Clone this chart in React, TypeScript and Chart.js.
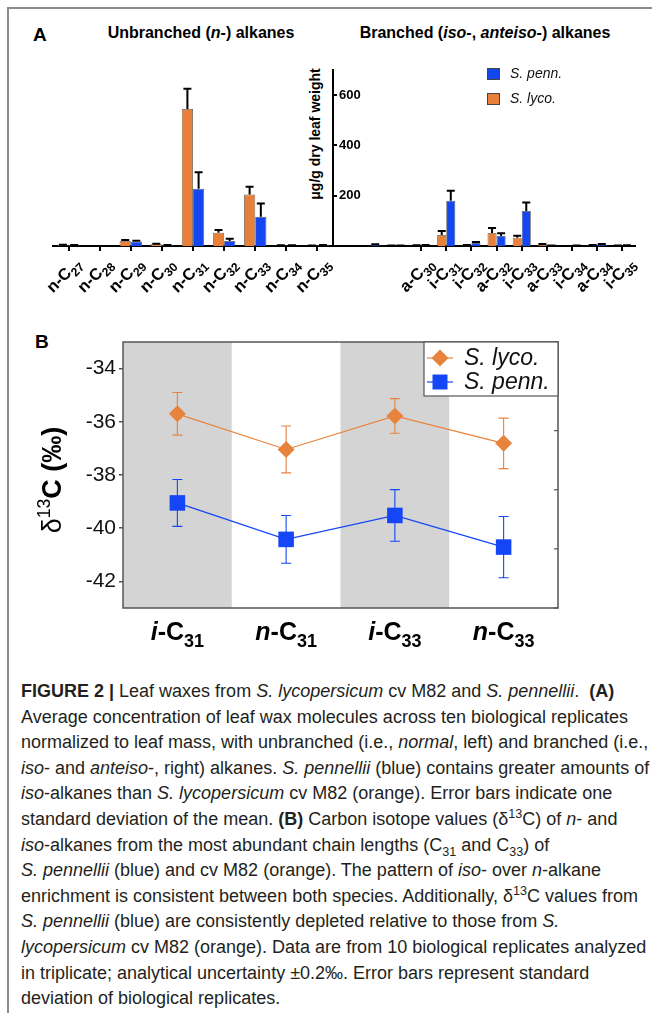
import React, { useEffect, useRef } from "react";
import { Chart, registerables } from "chart.js";

Chart.register(...registerables);

// ---------------- Panel A data (µg/g dry leaf weight) ----------------
const nPrefixes = ["n", "n", "n", "n", "n", "n", "n", "n", "n"];
const nChains = ["27", "28", "29", "30", "31", "32", "33", "34", "35"];
const nLycoValues = [3, 0, 20, 7, 545, 53, 205, 2, 1];
const nLycoErrors = [2, 0, 4, 2, 80, 11, 31, 1, 1];
const nPennValues = [3, 0, 17, 3, 228, 20, 116, 2, 3];
const nPennErrors = [1, 0, 4, 1, 65, 9, 53, 1, 1];

const brPrefixes = ["", "", "", "a", "i", "i", "a", "i", "a", "i", "a", "i"];
const brChains = ["", "", "", "30", "31", "32", "32", "33", "33", "34", "34", "35"];
const brLycoValues = [0, 0, 1, 2, 44, 3, 52, 33, 5, 0, 3, 1];
const brLycoErrors = [0, 0, 1, 1, 16, 1, 20, 8, 3, 0, 1, 1];
const brPennValues = [0, 5, 1, 3, 180, 12, 40, 139, 1, 1, 6, 2];
const brPennErrors = [0, 2, 1, 1, 40, 4, 11, 34, 1, 1, 2, 1];

const aTicks = [200, 400, 600];
const aMax = 700;

// ---------------- Panel B data (δ13C ‰) ----------------
const bPrefixes = ["i", "n", "i", "n"];
const bChains = ["31", "31", "33", "33"];
const bShaded = [true, false, true, false];
const lycoDelta = [-35.7, -37.04, -35.78, -36.81];
const lycoDeltaErr = [0.8, 0.88, 0.65, 0.95];
const pennDelta = [-39.05, -40.42, -39.52, -40.71];
const pennDeltaErr = [0.88, 0.9, 0.97, 1.15];
const bTicks = [-42, -40, -38, -36, -34];
const bMin = -43;
const bMax = -33;

const FONT = "'Liberation Sans', Arial, Helvetica, sans-serif";
const ORANGE = "#E8803A";
const BLUE = "#1446F2";
const ORANGE_B = "#E8833D";
const BLUE_B = "#1446F5";

type Seg = { t: string; b?: boolean; i?: boolean; sub?: boolean; sup?: boolean };

function drawRich(
  ctx: CanvasRenderingContext2D,
  segs: Seg[],
  x: number,
  y: number,
  size: number,
  align: "left" | "center" | "right",
  subScale = 0.72
) {
  const fontOf = (s: Seg) =>
    `${s.i ? "italic " : ""}${s.b ? "bold " : ""}${s.sub || s.sup ? size * subScale : size}px ${FONT}`;
  let w = 0;
  for (const s of segs) {
    ctx.font = fontOf(s);
    w += ctx.measureText(s.t).width;
  }
  let cx = align === "left" ? x : align === "center" ? x - w / 2 : x - w;
  ctx.textAlign = "left";
  ctx.textBaseline = "alphabetic";
  for (const s of segs) {
    ctx.font = fontOf(s);
    const dy = s.sub ? size * 0.28 : s.sup ? -size * 0.42 : 0;
    ctx.fillText(s.t, cx, y + dy);
    cx += ctx.measureText(s.t).width;
  }
  return w;
}

const barErrorPlugin = {
  id: "barErr",
  afterDatasetsDraw(chart: any) {
    const ctx = chart.ctx;
    const y = chart.scales.y;
    ctx.save();
    ctx.strokeStyle = "#000";
    ctx.lineWidth = 2;
    chart.data.datasets.forEach((ds: any, di: number) => {
      const meta = chart.getDatasetMeta(di);
      meta.data.forEach((bar: any, i: number) => {
        const v = ds.data[i];
        const e = ds.errors[i];
        const top = y.getPixelForValue(v + e);
        const base = y.getPixelForValue(v);
        ctx.beginPath();
        ctx.moveTo(bar.x, base);
        ctx.lineTo(bar.x, top);
        ctx.moveTo(bar.x - 4, top);
        ctx.lineTo(bar.x + 4, top);
        ctx.stroke();
      });
    });
    ctx.restore();
  },
};

function rotLabelPlugin(prefixes: string[], chains: string[]) {
  return {
    id: "rotLabels",
    afterDraw(chart: any) {
      const ctx = chart.ctx;
      const xs = chart.scales.x;
      ctx.save();
      ctx.fillStyle = "#000";
      prefixes.forEach((p, i) => {
        if (!p) return;
        const px = xs.getPixelForValue(i);
        ctx.save();
        ctx.translate(px + 5, xs.top + 10);
        ctx.rotate(-Math.PI / 4);
        drawRich(ctx, [{ t: p + "-C", b: true }, { t: chains[i], b: true, sub: true }], 0, 12, 16.5, "right", 0.74);
        ctx.restore();
      });
      ctx.restore();
    },
  };
}

const legendAPlugin = {
  id: "legendA",
  afterDraw(chart: any) {
    const ctx = chart.ctx;
    ctx.save();
    [1, 0].forEach((di, k) => {
      const ds = chart.data.datasets[di];
      const x = 187;
      const y = 28 + k * 25;
      ctx.fillStyle = ds.backgroundColor;
      ctx.fillRect(x, y, 13, 12);
      ctx.strokeStyle = "#444";
      ctx.lineWidth = 1;
      ctx.strokeRect(x + 0.5, y + 0.5, 12, 11);
      ctx.fillStyle = "#111";
      ctx.font = `italic 14px ${FONT}`;
      ctx.textAlign = "left";
      ctx.textBaseline = "middle";
      ctx.fillText(ds.label, x + 23, y + 6.5);
    });
    ctx.restore();
  },
};

const bPlugin = {
  id: "panelB",
  beforeDatasetsDraw(chart: any) {
    const ctx = chart.ctx;
    const xs = chart.scales.x;
    const ys = chart.scales.y;
    const ca = chart.chartArea;
    const w = xs.getPixelForValue(1) - xs.getPixelForValue(0);
    ctx.save();
    ctx.fillStyle = "#D4D4D4";
    bShaded.forEach((s, i) => {
      if (!s) return;
      const c = xs.getPixelForValue(i);
      ctx.fillRect(c - w / 2, ca.top, w, ca.bottom - ca.top);
    });
    // error bars
    chart.data.datasets.forEach((ds: any, di: number) => {
      const meta = chart.getDatasetMeta(di);
      ctx.strokeStyle = ds.borderColor;
      ctx.lineWidth = 1.1;
      meta.data.forEach((pt: any, i: number) => {
        const v = ds.data[i];
        const e = ds.errors[i];
        const t = ys.getPixelForValue(v + e);
        const b = ys.getPixelForValue(v - e);
        ctx.beginPath();
        ctx.moveTo(pt.x, t);
        ctx.lineTo(pt.x, b);
        ctx.moveTo(pt.x - 5, t);
        ctx.lineTo(pt.x + 5, t);
        ctx.moveTo(pt.x - 5, b);
        ctx.lineTo(pt.x + 5, b);
        ctx.stroke();
      });
    });
    ctx.restore();
  },
  afterDatasetsDraw(chart: any) {
    const ctx = chart.ctx;
    const ca = chart.chartArea;
    const y2 = chart.scales.y2;
    ctx.save();
    ctx.strokeStyle = "#555";
    ctx.lineWidth = 1.5;
    ctx.strokeRect(ca.left, ca.top, ca.right - ca.left, ca.bottom - ca.top);
    ctx.lineWidth = 1.2;
    y2.ticks.forEach((t: any) => {
      const py = y2.getPixelForValue(t.value);
      ctx.beginPath();
      ctx.moveTo(ca.right, py);
      ctx.lineTo(ca.right - 4, py);
      ctx.stroke();
    });
    ctx.restore();
  },
  afterDraw(chart: any) {
    const ctx = chart.ctx;
    const xs = chart.scales.x;
    const ca = chart.chartArea;
    ctx.save();
    ctx.fillStyle = "#000";
    bPrefixes.forEach((p, i) => {
      drawRich(
        ctx,
        [
          { t: p, b: true, i: true },
          { t: "-C", b: true },
          { t: bChains[i], b: true, sub: true },
        ],
        xs.getPixelForValue(i),
        ca.bottom + 32,
        25,
        "center"
      );
    });
    // y title
    ctx.save();
    ctx.translate(61, 160);
    ctx.rotate(-Math.PI / 2);
    drawRich(ctx, [{ t: "δ" }, { t: "13", sup: true }, { t: "C (‰)", b: true }], 0, 0, 27, "center", 0.65);
    ctx.restore();
    // legend
    const bw = 134;
    const bh = 54;
    const lx = ca.right - bw;
    const ly = ca.top;
    ctx.fillStyle = "#fff";
    ctx.fillRect(lx, ly, bw, bh);
    ctx.strokeStyle = "#555";
    ctx.lineWidth = 1.2;
    ctx.strokeRect(lx, ly, bw, bh);
    chart.data.datasets.forEach((ds: any, k: number) => {
      const cy = ly + 16 + k * 24;
      const cx = lx + 16;
      ctx.strokeStyle = ds.borderColor;
      ctx.lineWidth = 1.2;
      ctx.beginPath();
      ctx.moveTo(cx - 13, cy);
      ctx.lineTo(cx + 13, cy);
      ctx.stroke();
      ctx.fillStyle = ds.backgroundColor;
      if (ds.pointStyle === "rectRot") {
        const r = 8.5;
        ctx.beginPath();
        ctx.moveTo(cx, cy - r);
        ctx.lineTo(cx + r, cy);
        ctx.lineTo(cx, cy + r);
        ctx.lineTo(cx - r, cy);
        ctx.closePath();
        ctx.fill();
      } else {
        ctx.fillRect(cx - 7.5, cy - 7.5, 15, 15);
      }
      ctx.fillStyle = "#111";
      ctx.font = `italic 23px ${FONT}`;
      ctx.textAlign = "left";
      ctx.textBaseline = "middle";
      ctx.fillText(ds.label, lx + 40, cy + 1);
    });
    ctx.restore();
  },
};

function barDataset(label: string, data: number[], errors: number[], color: string) {
  return {
    label,
    data,
    errors,
    backgroundColor: color,
    borderColor: "#5a5a5a",
    borderWidth: 0.8,
    categoryPercentage: 0.72,
    barPercentage: 1,
  } as any;
}

export default function App() {
  const aLeftRef = useRef<HTMLCanvasElement>(null);
  const aRightRef = useRef<HTMLCanvasElement>(null);
  const bRef = useRef<HTMLCanvasElement>(null);

  useEffect(() => {
    const charts: Chart[] = [];
    const xAxisA = (tickColor: any) => ({
      offset: true,
      grid: {
        display: true,
        drawOnChartArea: false,
        drawTicks: true,
        tickLength: 5,
        offset: false,
        color: "#000",
        tickColor,
        lineWidth: 2,
      },
      border: { display: true, color: "#000", width: 2 },
      ticks: { display: false, autoSkip: false },
    });

    charts.push(
      new Chart(aLeftRef.current as HTMLCanvasElement, {
        type: "bar",
        data: {
          labels: nChains.map((c, i) => `${nPrefixes[i]}-C${c}`),
          datasets: [
            barDataset("S. lyco.", nLycoValues, nLycoErrors, ORANGE),
            barDataset("S. penn.", nPennValues, nPennErrors, BLUE),
          ],
        },
        options: {
          responsive: false,
          animation: false,
          layout: { padding: { left: 53, top: 30, right: 12, bottom: 79 } },
          plugins: { legend: { display: false }, tooltip: { enabled: false } },
          scales: {
            x: xAxisA("#000") as any,
            y: {
              position: "right",
              min: 0,
              max: aMax,
              afterBuildTicks: (axis: any) => {
                axis.ticks = aTicks.map((v) => ({ value: v }));
              },
              afterFit: (s: any) => {
                s.width = 35;
              },
              grid: { drawOnChartArea: false, tickLength: 4, color: "#000", lineWidth: 2 },
              border: { display: true, color: "#000", width: 2 },
              ticks: { color: "#000", font: { family: FONT, size: 13, weight: "bold" }, padding: 2 },
            } as any,
          },
        },
        plugins: [barErrorPlugin, rotLabelPlugin(nPrefixes, nChains)],
      } as any)
    );

    charts.push(
      new Chart(aRightRef.current as HTMLCanvasElement, {
        type: "bar",
        data: {
          labels: brChains.map((c, i) => (brPrefixes[i] ? `${brPrefixes[i]}-C${c}` : "")),
          datasets: [
            barDataset("S. lyco.", brLycoValues, brLycoErrors, ORANGE),
            barDataset("S. penn.", brPennValues, brPennErrors, BLUE),
          ],
        },
        options: {
          responsive: false,
          animation: false,
          layout: { padding: { left: 33, top: 30, right: 17, bottom: 79 } },
          plugins: { legend: { display: false }, tooltip: { enabled: false } },
          scales: {
            x: xAxisA((c: any) => (brPrefixes[c.index] ? "#000" : "rgba(0,0,0,0)")) as any,
            y: { display: false, min: 0, max: aMax },
          },
        },
        plugins: [barErrorPlugin, rotLabelPlugin(brPrefixes, brChains), legendAPlugin],
      } as any)
    );

    charts.push(
      new Chart(bRef.current as HTMLCanvasElement, {
        type: "line",
        data: {
          labels: bPrefixes.map((p, i) => `${p}-C${bChains[i]}`),
          datasets: [
            {
              label: "S. lyco.",
              data: lycoDelta,
              errors: lycoDeltaErr,
              borderColor: ORANGE_B,
              backgroundColor: ORANGE_B,
              borderWidth: 1.2,
              pointStyle: "rectRot",
              pointRadius: 8.5,
              pointBorderWidth: 0,
            } as any,
            {
              label: "S. penn.",
              data: pennDelta,
              errors: pennDeltaErr,
              borderColor: BLUE_B,
              backgroundColor: BLUE_B,
              borderWidth: 1.2,
              pointStyle: "rect",
              pointRadius: 11,
              pointBorderWidth: 0,
            } as any,
          ],
        },
        options: {
          responsive: false,
          animation: false,
          layout: { padding: { left: 0, top: 22, right: 42, bottom: 57 } },
          plugins: { legend: { display: false }, tooltip: { enabled: false } },
          scales: {
            x: {
              offset: true,
              grid: { display: false, drawTicks: false },
              border: { display: false },
              ticks: { display: false },
            },
            y: {
              min: bMin,
              max: bMax,
              afterBuildTicks: (axis: any) => {
                axis.ticks = bTicks.map((v) => ({ value: v }));
              },
              afterFit: (s: any) => {
                s.width = 123;
              },
              grid: { drawOnChartArea: false, tickLength: 4, color: "#555", lineWidth: 1.5 },
              border: { display: false },
              ticks: { color: "#111", font: { family: FONT, size: 21 }, padding: 3 },
            } as any,
            y2: {
              position: "right",
              min: 0,
              max: 4.5,
              ticks: { display: false, stepSize: 1 },
              grid: { drawOnChartArea: false, drawTicks: false },
              border: { display: false },
            } as any,
          },
        },
        plugins: [bPlugin],
      } as any)
    );

    return () => charts.forEach((c) => c.destroy());
  }, []);

  const abs = (s: React.CSSProperties): React.CSSProperties => ({ position: "absolute", whiteSpace: "nowrap", ...s });
  const capLine = (i: number): React.CSSProperties =>
    abs({ left: 21, top: 679 + i * 25.6, lineHeight: "25.6px", fontSize: 18, color: "#231f20" });
  const supS: React.CSSProperties = { fontSize: "0.7em", lineHeight: 0 };

  return (
    <div
      style={{
        position: "absolute",
        left: 0,
        top: 0,
        width: 652,
        height: 1013,
        background: "#fff",
        overflow: "hidden",
        fontFamily: FONT,
        color: "#000",
      }}
    >
      <div
        style={abs({
          left: 7,
          top: 7,
          width: 700,
          height: 1100,
          borderTop: "2px solid #8c8c8c",
          borderLeft: "2px solid #8c8c8c",
        })}
      />
      {/* Panel A headings */}
      <div style={abs({ left: 33, top: 34, transform: "translateY(-50%)", fontSize: 19, fontWeight: "bold", lineHeight: 1 })}>A</div>
      <div style={abs({ left: 201, top: 33, transform: "translate(-50%,-50%)", fontSize: 16, fontWeight: "bold", lineHeight: 1 })}>
        Unbranched (<i>n</i>-) alkanes
      </div>
      <div style={abs({ left: 485, top: 33, transform: "translate(-50%,-50%)", fontSize: 16, fontWeight: "bold", lineHeight: 1 })}>
        Branched (<i>iso</i>-, <i>anteiso</i>-) alkanes
      </div>
      <div
        style={abs({
          left: 315,
          top: 134,
          transform: "translate(-50%,-50%) rotate(-90deg)",
          fontSize: 14,
          fontWeight: "bold",
          lineHeight: 1,
        })}
      >
        μg/g dry leaf weight
      </div>

      <canvas ref={aLeftRef} width={380} height={290} style={{ position: "absolute", left: 0, top: 40 }} />
      <canvas ref={aRightRef} width={352} height={290} style={{ position: "absolute", left: 300, top: 40 }} />

      {/* Panel B */}
      <div style={abs({ left: 35, top: 341, transform: "translateY(-50%)", fontSize: 19, fontWeight: "bold", lineHeight: 1 })}>B</div>
      <canvas ref={bRef} width={600} height={345} style={{ position: "absolute", left: 0, top: 320 }} />

      {/* Caption */}
      <div style={capLine(0)}>
        <b>FIGURE 2 |</b> Leaf waxes from <i>S. lycopersicum</i> cv M82 and <i>S. pennellii</i>.{"\u00a0 "}<b>(A)</b>
      </div>
      <div style={capLine(1)}>Average concentration of leaf wax molecules across ten biological replicates</div>
      <div style={capLine(2)}>
        normalized to leaf mass, with unbranched (i.e., <i>normal</i>, left) and branched (i.e.,
      </div>
      <div style={capLine(3)}>
        <i>iso</i>- and <i>anteiso</i>-, right) alkanes. <i>S. pennellii</i> (blue) contains greater amounts of
      </div>
      <div style={capLine(4)}>
        <i>iso</i>-alkanes than <i>S. lycopersicum</i> cv M82 (orange). Error bars indicate one
      </div>
      <div style={capLine(5)}>
        standard deviation of the mean. <b>(B)</b> Carbon isotope values (δ<sup style={supS}>13</sup>C) of <i>n</i>- and
      </div>
      <div style={capLine(6)}>
        <i>iso</i>-alkanes from the most abundant chain lengths (C<sub style={supS}>31</sub> and C<sub style={supS}>33</sub>) of
      </div>
      <div style={capLine(7)}>
        <i>S. pennellii</i> (blue) and cv M82 (orange). The pattern of <i>iso</i>- over <i>n</i>-alkane
      </div>
      <div style={capLine(8)}>
        enrichment is consistent between both species. Additionally, δ<sup style={supS}>13</sup>C values from
      </div>
      <div style={capLine(9)}>
        <i>S. pennellii</i> (blue) are consistently depleted relative to those from <i>S.</i>
      </div>
      <div style={capLine(10)}>
        <i>lycopersicum</i> cv M82 (orange). Data are from 10 biological replicates analyzed
      </div>
      <div style={capLine(11)}>in triplicate; analytical uncertainty ±0.2‰. Error bars represent standard</div>
      <div style={capLine(12)}>deviation of biological replicates.</div>
    </div>
  );
}
